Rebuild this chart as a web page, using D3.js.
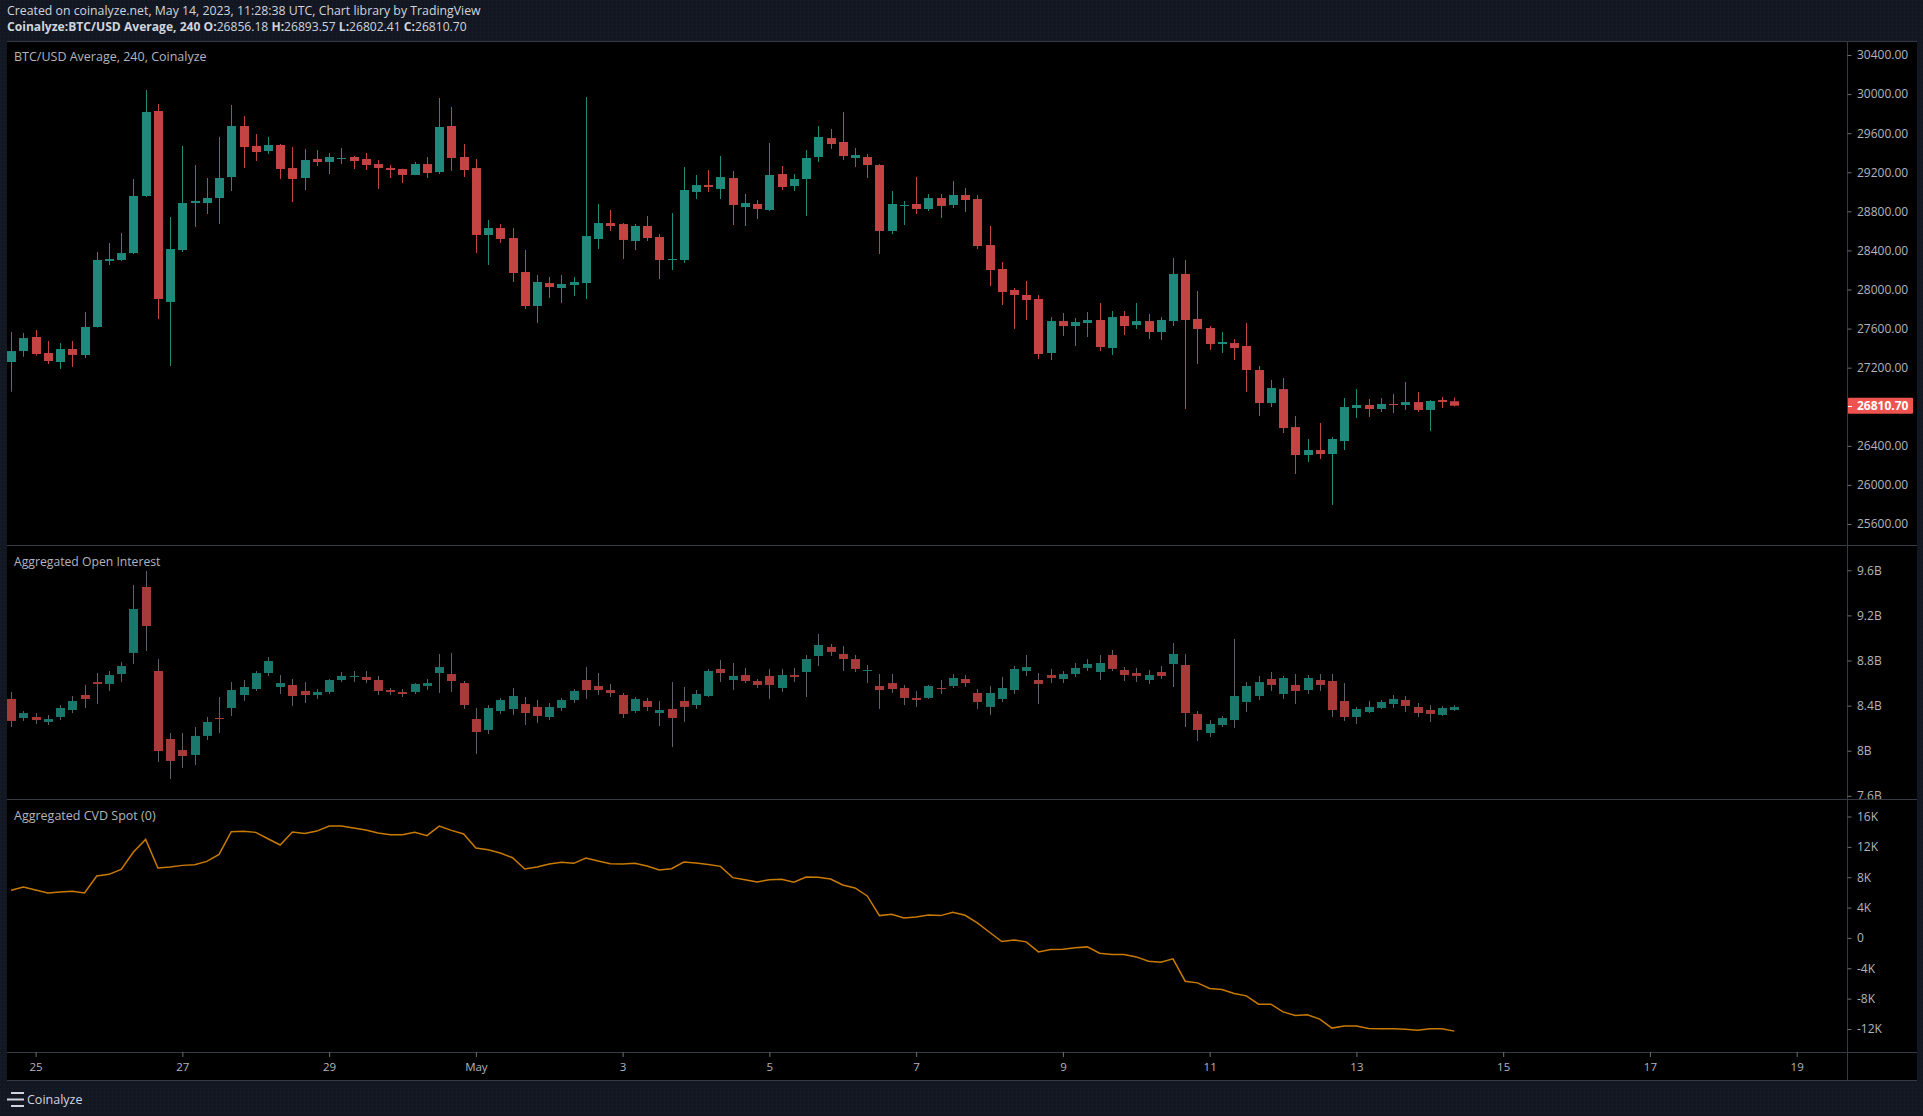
<!DOCTYPE html>
<html><head><meta charset="utf-8">
<script src="https://cdn.jsdelivr.net/npm/d3@7"></script>
<style>
html,body{margin:0;padding:0;background:#131722;overflow:hidden;}
svg{display:block;}
text{font-family:"Open Sans",sans-serif;}
</style></head><body>
<svg id="c" width="1923" height="1116"></svg>
<script>
// ---- DATA ----
const startTime = Date.UTC(2023, 3, 24, 16); // first 4h candle (UTC)
const candleHours = 4;

const priceOpen = [27258,27370,27514,27350,27258,27391,27330,27616,28292,28302,28373,28957,29827,27872,28404,28885,28885,28936,29151,29673,29469,29417,29479,29243,29141,29336,29305,29336,29356,29336,29284,29243,29233,29172,29284,29202,29673,29356,29243,28558,28629,28527,28179,27831,28066,28015,28046,28066,28517,28680,28670,28496,28650,28537,28302,28302,28998,29069,29029,29141,28844,28875,28814,29182,29059,29131,29356,29550,29510,29346,29356,29274,28599,28855,28875,28824,28936,28865,28967,28926,28455,28210,27995,27944,27903,27350,27677,27626,27657,27688,27401,27729,27636,27677,27565,27677,28159,27698,27606,27442,27452,27422,27176,26838,26981,26592,26306,26357,26316,26449,26787,26818,26777,26828,26818,26848,26767,26869,26856.18];
const priceHigh = [27565,27555,27585,27473,27452,27473,27770,28384,28476,28578,29131,30042,29899,28742,29469,29274,29141,29561,29888,29776,29591,29561,29489,29458,29438,29428,29397,29448,29366,29397,29325,29274,29235,29305,29356,29960,29868,29489,29336,28711,28670,28629,28404,28148,28128,28148,28128,29970,28875,28814,28680,28670,28752,28568,28783,29254,29172,29223,29366,29213,28977,28916,29499,29264,29182,29428,29673,29643,29817,29448,29387,29284,29008,28906,29151,28977,28977,29110,29039,28967,28650,28281,28015,28087,27944,27718,27759,27708,27770,27862,27780,27780,27862,27749,27718,28322,28302,27985,27626,27565,27493,27657,27217,27074,27094,26705,26470,26634,26490,26889,26981,26879,26889,26930,27053,26951,26869,26900,26893.57];
const priceLow = [26954,27312,27323,27237,27186,27207,27299,27610,28251,28292,28363,28947,27698,27217,28384,28640,28773,28670,29008,29243,29315,29387,29131,28895,29018,29264,29182,29284,29233,29223,29029,29141,29090,29170,29141,29182,29213,29151,28373,28251,28476,28077,27800,27657,27913,27862,27933,27903,28414,28599,28312,28404,28496,28107,28199,28271,28926,28998,28926,28660,28650,28721,28803,29018,29008,28752,29305,29438,29325,29254,29141,28363,28568,28660,28773,28803,28732,28834,28793,28414,28036,27841,27596,27688,27289,27278,27524,27422,27514,27370,27329,27534,27596,27493,27483,27626,26777,27237,27381,27350,27278,26951,26705,26797,26531,26112,26234,26265,25794,26357,26685,26695,26746,26736,26767,26746,26552,26787,26802.41];
const priceClose = [27370,27503,27340,27268,27391,27330,27616,28302,28312,28373,28957,29817,27903,28414,28885,28906,28936,29141,29673,29458,29407,29479,29233,29131,29325,29305,29356,29346,29315,29274,29243,29223,29172,29284,29192,29663,29346,29223,28558,28629,28517,28169,27831,28077,28025,28056,28077,28547,28680,28650,28507,28650,28527,28302,28312,29018,29069,29049,29151,28865,28885,28824,29172,29049,29131,29346,29561,29489,29366,29376,29274,28599,28875,28865,28824,28936,28855,28967,28916,28445,28199,27974,27944,27892,27340,27677,27626,27667,27688,27411,27718,27626,27677,27565,27688,28159,27688,27596,27442,27463,27401,27176,26838,26992,26582,26306,26357,26316,26470,26797,26818,26777,26828,26818,26848,26767,26859,26848,26810.70];

// Aggregated open interest, billions USD
const oiOpen = [8.459,8.290,8.299,8.255,8.299,8.361,8.494,8.609,8.592,8.680,8.867,9.452,8.707,8.104,8.006,7.962,8.131,8.290,8.379,8.494,8.547,8.689,8.565,8.583,8.530,8.494,8.521,8.627,8.654,8.654,8.627,8.538,8.521,8.521,8.574,8.689,8.680,8.600,8.281,8.184,8.352,8.370,8.414,8.388,8.299,8.379,8.450,8.627,8.574,8.538,8.494,8.352,8.441,8.334,8.370,8.441,8.405,8.485,8.725,8.627,8.671,8.618,8.663,8.556,8.671,8.698,8.840,8.920,8.858,8.813,8.707,8.574,8.600,8.556,8.468,8.468,8.556,8.574,8.636,8.512,8.388,8.459,8.538,8.707,8.627,8.671,8.636,8.680,8.734,8.698,8.849,8.716,8.689,8.627,8.698,8.769,8.760,8.326,8.157,8.228,8.272,8.432,8.485,8.636,8.503,8.583,8.538,8.627,8.618,8.441,8.299,8.343,8.379,8.414,8.450,8.388,8.361,8.317,8.361];
const oiHigh = [8.521,8.352,8.334,8.317,8.405,8.485,8.583,8.689,8.707,8.787,9.470,9.594,8.813,8.157,8.157,8.210,8.299,8.476,8.609,8.627,8.707,8.831,8.671,8.636,8.609,8.547,8.636,8.698,8.707,8.707,8.663,8.556,8.547,8.600,8.636,8.858,8.867,8.618,8.379,8.405,8.468,8.556,8.476,8.450,8.423,8.468,8.547,8.742,8.689,8.592,8.512,8.476,8.468,8.441,8.609,8.565,8.538,8.725,8.805,8.778,8.734,8.636,8.725,8.725,8.734,8.849,9.035,8.946,8.929,8.849,8.760,8.680,8.680,8.583,8.530,8.583,8.627,8.680,8.671,8.547,8.574,8.654,8.751,8.849,8.689,8.725,8.707,8.778,8.813,8.849,8.893,8.742,8.734,8.716,8.751,8.955,8.858,8.352,8.272,8.308,8.991,8.609,8.663,8.698,8.663,8.680,8.671,8.680,8.680,8.600,8.388,8.441,8.450,8.494,8.485,8.423,8.405,8.397,8.405];
const oiLow = [8.210,8.264,8.237,8.228,8.272,8.334,8.379,8.414,8.530,8.609,8.769,8.884,7.900,7.749,7.847,7.873,8.095,8.157,8.308,8.441,8.530,8.662,8.503,8.397,8.423,8.459,8.503,8.609,8.609,8.600,8.494,8.494,8.476,8.503,8.538,8.512,8.521,8.370,7.971,8.148,8.326,8.317,8.228,8.246,8.272,8.352,8.423,8.459,8.494,8.476,8.290,8.334,8.352,8.219,8.033,8.255,8.370,8.476,8.609,8.538,8.600,8.556,8.459,8.521,8.609,8.476,8.751,8.840,8.707,8.698,8.600,8.370,8.512,8.405,8.388,8.459,8.503,8.556,8.565,8.370,8.317,8.432,8.503,8.663,8.414,8.600,8.600,8.654,8.707,8.627,8.707,8.618,8.609,8.592,8.636,8.565,8.210,8.086,8.122,8.210,8.201,8.343,8.450,8.530,8.459,8.414,8.503,8.530,8.299,8.264,8.237,8.334,8.370,8.379,8.343,8.299,8.255,8.308,8.352];
const oiClose = [8.264,8.334,8.272,8.281,8.379,8.441,8.459,8.592,8.671,8.751,9.257,9.106,7.997,7.909,7.953,8.131,8.255,8.281,8.538,8.565,8.689,8.796,8.600,8.485,8.494,8.521,8.627,8.663,8.663,8.627,8.530,8.521,8.503,8.592,8.600,8.742,8.618,8.405,8.166,8.379,8.450,8.485,8.334,8.308,8.388,8.450,8.530,8.538,8.538,8.512,8.326,8.459,8.388,8.361,8.290,8.388,8.503,8.707,8.689,8.663,8.618,8.583,8.583,8.671,8.654,8.813,8.938,8.876,8.813,8.725,8.716,8.538,8.547,8.468,8.450,8.574,8.547,8.645,8.600,8.432,8.512,8.556,8.725,8.742,8.592,8.645,8.680,8.734,8.769,8.778,8.725,8.671,8.663,8.671,8.663,8.858,8.334,8.184,8.237,8.290,8.485,8.574,8.609,8.583,8.645,8.530,8.645,8.583,8.361,8.299,8.370,8.388,8.432,8.459,8.397,8.334,8.326,8.379,8.388];

// Aggregated CVD spot, thousands
const cvdValues = [6.27,6.71,6.32,5.92,6.05,6.14,5.92,8.16,8.38,9.04,11.32,12.98,9.21,9.34,9.56,9.65,10.09,11.01,13.99,14.04,13.91,13.07,12.24,13.95,13.77,14.08,14.74,14.74,14.48,14.21,13.82,13.60,13.60,13.91,13.47,14.74,14.17,13.69,11.84,11.62,11.19,10.57,9.08,9.34,9.74,9.96,9.83,10.53,10.13,9.78,9.74,9.83,9.48,8.95,9.12,10.00,9.87,9.69,9.43,7.94,7.68,7.37,7.68,7.72,7.33,8.03,7.98,7.76,6.98,6.58,5.53,2.94,3.12,2.63,2.77,3.03,2.94,3.38,2.98,1.98,0.75,-0.48,-0.26,-0.52,-1.84,-1.53,-1.49,-1.31,-1.18,-2.02,-2.19,-2.19,-2.50,-3.07,-3.20,-2.76,-5.70,-5.92,-6.66,-6.80,-7.32,-7.63,-8.73,-8.73,-9.74,-10.22,-10.13,-10.70,-11.88,-11.62,-11.62,-11.93,-11.97,-11.97,-12.02,-12.15,-11.97,-11.97,-12.28];

const priceTicks = [25600,26000,26400,26800,27200,27600,28000,28400,28800,29200,29600,30000,30400].filter(v => v !== 26800);
const oiTicks = [7.6,8.0,8.4,8.8,9.2,9.6];
const cvdTicks = [-12,-8,-4,0,4,8,12,16];
const timeTickDates = ["2023-04-25","2023-04-27","2023-04-29","2023-05-01","2023-05-03","2023-05-05","2023-05-07","2023-05-09","2023-05-11","2023-05-13","2023-05-15","2023-05-17","2023-05-19"];
const timeTickLabels = ["25","27","29","May","3","5","7","9","11","13","15","17","19"];

const headerLine1 = "Created on coinalyze.net, May 14, 2023, 11:28:38 UTC, Chart library by TradingView";
const paneTitles = ["BTC/USD Average, 240, Coinalyze","Aggregated Open Interest","Aggregated CVD Spot (0)"];
const lastPriceLabel = "26810.70";

// ---- LAYOUT ----
const L = 7, PR = 1847, R = 1917;
const panes = {price:[41,545], oi:[545,799], cvd:[799,1052]};
const axisTop = 1052, axisBottom = 1080;
const up = "#1f8a7c", down = "#c44343";
const oiUp = "#1a776b", oiDown = "#a83a3a", oiWick = "#5f626b";
const gridCol = "#363a45", txt = "#b2b5be";

const svg = d3.select("#c");
const defs = svg.append("defs");

// background dotted
const pat = defs.append("pattern").attr("id","dots").attr("width",4).attr("height",4).attr("patternUnits","userSpaceOnUse");
pat.append("rect").attr("width",4).attr("height",4).attr("fill","#131722");
pat.append("rect").attr("width",1).attr("height",1).attr("fill","#1b2030");
svg.append("rect").attr("width",1923).attr("height",1116).attr("fill","url(#dots)");

// black chart panel
svg.append("rect").attr("x",L).attr("y",panes.price[0]).attr("width",R-L).attr("height",axisBottom-panes.price[0]).attr("fill","#000");

const times = priceOpen.map((_, i) => new Date(startTime + i * candleHours * 3600e3));
const x = d3.scaleUtc()
  .domain([new Date(Date.UTC(2023,3,25)), new Date(Date.UTC(2023,4,19))])
  .range([35.6, 1796.7]);
const yP = d3.scaleLinear().domain([25600,30400]).range([524,55]);
const yO = d3.scaleLinear().domain([8,9.6]).range([750.7,570.3]);
const yC = d3.scaleLinear().domain([-12,16]).range([1029,816.5]);

function clip(id, y0, y1, x0, x1){
  defs.append("clipPath").attr("id",id).append("rect").attr("x",x0).attr("y",y0).attr("width",x1-x0).attr("height",y1-y0);
}
clip("cp", panes.price[0], panes.price[1], L, PR);
clip("co", panes.oi[0]+1, panes.oi[1], L, PR);
clip("cc", panes.cvd[0]+1, panes.cvd[1], L, PR);
clip("ao", panes.oi[0]+1, panes.oi[1], PR, R);
clip("ac", panes.cvd[0]+1, panes.cvd[1], PR, R);

function candles(g, O, Hh, Lo, C, y, cu, cd, wu, wd){
  const bw = 9;
  const data = O.map((o,i)=>({t:times[i],o,h:Hh[i],l:Lo[i],c:C[i]}));
  g.selectAll("line.w").data(data).join("line").attr("class","w")
    .attr("x1",d=>Math.round(x(d.t))+0.5).attr("x2",d=>Math.round(x(d.t))+0.5)
    .attr("y1",d=>y(d.h)).attr("y2",d=>y(d.l))
    .attr("stroke",d=>d.c>=d.o?wu:wd).attr("stroke-width",1);
  g.selectAll("rect.b").data(data).join("rect").attr("class","b")
    .attr("x",d=>Math.round(x(d.t))-4)
    .attr("y",d=>Math.min(y(d.o),y(d.c)))
    .attr("width",bw)
    .attr("height",d=>Math.max(1,Math.abs(y(d.o)-y(d.c))))
    .attr("fill",d=>d.c>=d.o?cu:cd);
}

candles(svg.append("g").attr("clip-path","url(#cp)"), priceOpen, priceHigh, priceLow, priceClose, yP, up, down, up, down);
candles(svg.append("g").attr("clip-path","url(#co)"), oiOpen, oiHigh, oiLow, oiClose, yO, oiUp, oiDown, oiWick, oiWick);

svg.append("g").attr("clip-path","url(#cc)").append("path")
  .datum(cvdValues)
  .attr("d", d3.line().x((d,i)=>x(times[i])).y(d=>yC(d)))
  .attr("fill","none").attr("stroke","#c97a00").attr("stroke-width",1.5);

// separators
const sep = svg.append("g").attr("stroke",gridCol).attr("stroke-width",1);
[panes.oi[0], panes.cvd[0], axisTop].forEach(yv=>{
  sep.append("line").attr("x1",L).attr("x2",R).attr("y1",yv+0.5).attr("y2",yv+0.5);
});
sep.append("line").attr("x1",L).attr("x2",R).attr("y1",axisBottom+0.5).attr("y2",axisBottom+0.5);
sep.append("line").attr("x1",PR+0.5).attr("x2",PR+0.5).attr("y1",panes.price[0]).attr("y2",axisBottom);
sep.append("line").attr("x1",L).attr("x2",R).attr("y1",panes.price[0]+0.5).attr("y2",panes.price[0]+0.5);

// right axes
function rightAxis(scale, ticks, fmt, clipId){
  const outer = svg.append("g");
  if (clipId) outer.attr("clip-path", `url(#${clipId})`);
  const g = outer.append("g").attr("transform",`translate(${PR},0)`);
  const ax = d3.axisRight(scale).tickValues(ticks).tickFormat(fmt).tickSize(4).tickPadding(6);
  g.call(ax);
  g.select(".domain").remove();
  g.selectAll(".tick line").attr("stroke","#6a6d78").attr("transform","translate(0.5,0)");
  g.selectAll(".tick text").attr("fill",txt).style("font-size","12px").style("font-family","'Open Sans',sans-serif");
  return g;
}
rightAxis(yP, priceTicks, d=>d3.format(".2f")(d), null);
rightAxis(yO, oiTicks, d=>d3.format("~g")(d)+"B", "ao");
rightAxis(yC, cvdTicks, d=>d===0?"0":d+"K", "ac");

// last price label
const ly = yP(priceClose[priceClose.length-1]);
svg.append("rect").attr("x",PR+1).attr("y",ly-8).attr("width",65).attr("height",16).attr("fill","#ef5350").attr("rx",1);
svg.append("line").attr("x1",PR+1).attr("x2",PR+5).attr("y1",Math.round(ly)+0.5).attr("y2",Math.round(ly)+0.5).attr("stroke","#fff");
svg.append("text").attr("x",PR+10).attr("y",ly).attr("dy","0.35em").attr("fill","#fff")
  .style("font-size","12px").style("font-weight","700").text(lastPriceLabel);

// time axis
const tg = svg.append("g").attr("transform",`translate(0,${axisTop})`);
const tDates = timeTickDates.map(s=>new Date(s+"T00:00:00Z"));
const tAx = d3.axisBottom(x).tickValues(tDates).tickFormat((d,i)=>timeTickLabels[i]).tickSize(5).tickPadding(6);
tg.call(tAx);
tg.select(".domain").remove();
tg.selectAll(".tick line").attr("stroke","#6a6d78");
tg.selectAll(".tick text").attr("fill",txt).style("font-size","11.5px").style("font-family","'Open Sans',sans-serif");

// pane titles
svg.append("text").attr("x",14).attr("y",57).attr("dy","0.35em").attr("fill",txt).style("font-size","12.5px").text(paneTitles[0]);
svg.append("text").attr("x",14).attr("y",562).attr("dy","0.35em").attr("fill",txt).style("font-size","12.2px").text(paneTitles[1]);
svg.append("text").attr("x",14).attr("y",816).attr("dy","0.35em").attr("fill",txt).style("font-size","12.5px").text(paneTitles[2]);

// header
svg.append("text").attr("x",7).attr("y",11).attr("dy","0.35em").attr("fill","#d1d4dc").style("font-size","12.3px").text(headerLine1);
const h2 = svg.append("text").attr("x",7).attr("y",27).attr("dy","0.35em").attr("fill","#d1d4dc").style("font-size","12.1px");
const ohlc = [["O:",priceOpen],["H:",priceHigh],["L:",priceLow],["C:",priceClose]];
h2.append("tspan").style("font-weight","700").text("Coinalyze:BTC/USD Average, 240 ");
ohlc.forEach(([k,arr],j)=>{
  h2.append("tspan").style("font-weight","700").text(k);
  h2.append("tspan").text(d3.format(".2f")(arr[arr.length-1]) + (j<3?" ":""));
});

// footer
const fg = svg.append("g").attr("stroke","#d1d4dc").attr("stroke-width",2);
fg.append("line").attr("x1",11).attr("x2",24).attr("y1",1093).attr("y2",1093);
fg.append("line").attr("x1",7).attr("x2",24).attr("y1",1099.5).attr("y2",1099.5);
fg.append("line").attr("x1",11).attr("x2",24).attr("y1",1106).attr("y2",1106);
svg.append("text").attr("x",27).attr("y",1100).attr("dy","0.35em").attr("fill","#d1d4dc").style("font-size","12.5px").text("Coinalyze");
</script>
</body></html>
